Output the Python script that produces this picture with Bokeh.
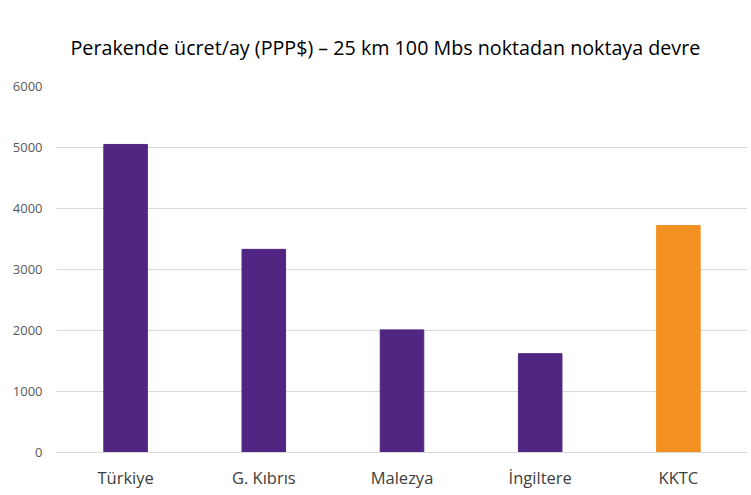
from bokeh.plotting import figure
from bokeh.models import Range1d, FactorRange, ColumnDataSource, Title
from bokeh.embed import file_html
from bokeh.resources import INLINE

categories = ["Türkiye", "G. Kıbrıs", "Malezya", "İngiltere", "KKTC"]
values = [5050, 3330, 2010, 1620, 3720]
colors = ["#512683", "#512683", "#512683", "#512683", "#F29021"]
y_ticks = [0, 1000, 2000, 3000, 4000, 5000, 6000]
title_text = "Perakende ücret/ay (PPP$) – 25 km 100 Mbs noktadan noktaya devre"

src = ColumnDataSource(dict(cat=categories, val=values, col=colors))

p = figure(width=747, height=491, x_range=FactorRange(*categories, range_padding=0),
           y_range=Range1d(0, 6000), output_backend="svg", toolbar_location=None,
           min_border_left=56, min_border_right=0, min_border_top=86, min_border_bottom=38)
p.x_range.factor_padding = 0
p.vbar(x="cat", top="val", width=0.315, color="col", source=src)

t = Title(text=title_text, align="left", text_font="Open Sans", text_font_size="19.7px",
          text_font_style="normal", text_color="#000000", standoff=52, offset=14)
p.add_layout(t, "above")

p.outline_line_color = None
p.background_fill_color = "white"
p.border_fill_color = "white"
p.xgrid.grid_line_color = None
p.ygrid.grid_line_color = "#d9d9d9"
p.ygrid.grid_line_width = 1
p.yaxis.ticker = y_ticks
p.yaxis.axis_line_color = None
p.yaxis.major_tick_line_color = None
p.yaxis.major_tick_out = 0
p.yaxis.major_tick_in = 0
p.yaxis.minor_tick_line_color = None
p.yaxis.major_label_text_font = "Open Sans"
p.yaxis.major_label_text_font_size = "13px"
p.yaxis.major_label_text_color = "#595959"
p.yaxis.major_label_standoff = 14
p.xaxis.axis_line_color = "#d9d9d9"
p.xaxis.major_tick_line_color = None
p.xaxis.major_tick_out = 0
p.xaxis.major_tick_in = 0
p.xaxis.minor_tick_line_color = None
p.xaxis.major_label_text_font = "Open Sans"
p.xaxis.major_label_text_font_size = "16.5px"
p.xaxis.major_label_text_color = "#404040"
p.xaxis.major_label_standoff = 13

open("out.html", "w").write(file_html(p, INLINE))
